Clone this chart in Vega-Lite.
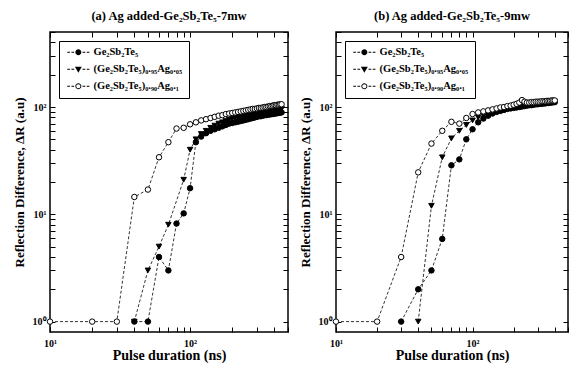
{
  "$schema": "https://vega.github.io/schema/vega-lite/v6.json",
  "background": "white",
  "padding": {"left": 12, "top": 8, "right": 0, "bottom": 0},
  "spacing": 8,
  "config": {
    "font": "Liberation Serif",
    "view": {"stroke": "black", "strokeWidth": 1.5},
    "title": {"font": "Liberation Serif", "fontSize": 12.5, "fontWeight": "bold", "offset": 5, "anchor": "middle", "color": "black"},
    "axis": {"grid": false, "domain": false, "tickColor": "black", "tickWidth": 1, "labelColor": "black", "titleColor": "black", "labelFont": "Liberation Serif", "titleFont": "Liberation Serif", "labelFontWeight": "bold", "titleFontWeight": "bold", "labelFontSize": 10, "labelFlush": false, "labelOverlap": false, "labelBound": false},
    "legend": {"labelFont": "Liberation Serif", "labelFontSize": 10.5, "labelFontWeight": "bold", "labelColor": "black"}
  },
  "datasets": {
    "a": [
      {"duration": 40, "dR": 1, "alloy": "(Ge₂Sb₂Te₅)₀.₉₅Ag₀.₀₅"},
      {"duration": 50, "dR": 3.0, "alloy": "(Ge₂Sb₂Te₅)₀.₉₅Ag₀.₀₅"},
      {"duration": 60, "dR": 5.0, "alloy": "(Ge₂Sb₂Te₅)₀.₉₅Ag₀.₀₅"},
      {"duration": 70, "dR": 8.0, "alloy": "(Ge₂Sb₂Te₅)₀.₉₅Ag₀.₀₅"},
      {"duration": 90, "dR": 21, "alloy": "(Ge₂Sb₂Te₅)₀.₉₅Ag₀.₀₅"},
      {"duration": 100, "dR": 40, "alloy": "(Ge₂Sb₂Te₅)₀.₉₅Ag₀.₀₅"},
      {"duration": 110, "dR": 50, "alloy": "(Ge₂Sb₂Te₅)₀.₉₅Ag₀.₀₅"},
      {"duration": 120, "dR": 56, "alloy": "(Ge₂Sb₂Te₅)₀.₉₅Ag₀.₀₅"},
      {"duration": 130, "dR": 60, "alloy": "(Ge₂Sb₂Te₅)₀.₉₅Ag₀.₀₅"},
      {"duration": 140, "dR": 64, "alloy": "(Ge₂Sb₂Te₅)₀.₉₅Ag₀.₀₅"},
      {"duration": 150, "dR": 67, "alloy": "(Ge₂Sb₂Te₅)₀.₉₅Ag₀.₀₅"},
      {"duration": 160, "dR": 70, "alloy": "(Ge₂Sb₂Te₅)₀.₉₅Ag₀.₀₅"},
      {"duration": 170, "dR": 72, "alloy": "(Ge₂Sb₂Te₅)₀.₉₅Ag₀.₀₅"},
      {"duration": 180, "dR": 74, "alloy": "(Ge₂Sb₂Te₅)₀.₉₅Ag₀.₀₅"},
      {"duration": 190, "dR": 76, "alloy": "(Ge₂Sb₂Te₅)₀.₉₅Ag₀.₀₅"},
      {"duration": 200, "dR": 78, "alloy": "(Ge₂Sb₂Te₅)₀.₉₅Ag₀.₀₅"},
      {"duration": 210, "dR": 79, "alloy": "(Ge₂Sb₂Te₅)₀.₉₅Ag₀.₀₅"},
      {"duration": 220, "dR": 80, "alloy": "(Ge₂Sb₂Te₅)₀.₉₅Ag₀.₀₅"},
      {"duration": 230, "dR": 81, "alloy": "(Ge₂Sb₂Te₅)₀.₉₅Ag₀.₀₅"},
      {"duration": 240, "dR": 82, "alloy": "(Ge₂Sb₂Te₅)₀.₉₅Ag₀.₀₅"},
      {"duration": 250, "dR": 83, "alloy": "(Ge₂Sb₂Te₅)₀.₉₅Ag₀.₀₅"},
      {"duration": 260, "dR": 84, "alloy": "(Ge₂Sb₂Te₅)₀.₉₅Ag₀.₀₅"},
      {"duration": 270, "dR": 85, "alloy": "(Ge₂Sb₂Te₅)₀.₉₅Ag₀.₀₅"},
      {"duration": 280, "dR": 86, "alloy": "(Ge₂Sb₂Te₅)₀.₉₅Ag₀.₀₅"},
      {"duration": 290, "dR": 87, "alloy": "(Ge₂Sb₂Te₅)₀.₉₅Ag₀.₀₅"},
      {"duration": 300, "dR": 88, "alloy": "(Ge₂Sb₂Te₅)₀.₉₅Ag₀.₀₅"},
      {"duration": 310, "dR": 88, "alloy": "(Ge₂Sb₂Te₅)₀.₉₅Ag₀.₀₅"},
      {"duration": 320, "dR": 89, "alloy": "(Ge₂Sb₂Te₅)₀.₉₅Ag₀.₀₅"},
      {"duration": 330, "dR": 90, "alloy": "(Ge₂Sb₂Te₅)₀.₉₅Ag₀.₀₅"},
      {"duration": 340, "dR": 90, "alloy": "(Ge₂Sb₂Te₅)₀.₉₅Ag₀.₀₅"},
      {"duration": 350, "dR": 91, "alloy": "(Ge₂Sb₂Te₅)₀.₉₅Ag₀.₀₅"},
      {"duration": 360, "dR": 92, "alloy": "(Ge₂Sb₂Te₅)₀.₉₅Ag₀.₀₅"},
      {"duration": 370, "dR": 92, "alloy": "(Ge₂Sb₂Te₅)₀.₉₅Ag₀.₀₅"},
      {"duration": 380, "dR": 93, "alloy": "(Ge₂Sb₂Te₅)₀.₉₅Ag₀.₀₅"},
      {"duration": 390, "dR": 93, "alloy": "(Ge₂Sb₂Te₅)₀.₉₅Ag₀.₀₅"},
      {"duration": 400, "dR": 94, "alloy": "(Ge₂Sb₂Te₅)₀.₉₅Ag₀.₀₅"},
      {"duration": 410, "dR": 94, "alloy": "(Ge₂Sb₂Te₅)₀.₉₅Ag₀.₀₅"},
      {"duration": 420, "dR": 95, "alloy": "(Ge₂Sb₂Te₅)₀.₉₅Ag₀.₀₅"},
      {"duration": 430, "dR": 95, "alloy": "(Ge₂Sb₂Te₅)₀.₉₅Ag₀.₀₅"},
      {"duration": 440, "dR": 96, "alloy": "(Ge₂Sb₂Te₅)₀.₉₅Ag₀.₀₅"},
      {"duration": 450, "dR": 96, "alloy": "(Ge₂Sb₂Te₅)₀.₉₅Ag₀.₀₅"},
      {"duration": 40, "dR": 1, "alloy": "Ge₂Sb₂Te₅"},
      {"duration": 50, "dR": 1, "alloy": "Ge₂Sb₂Te₅"},
      {"duration": 60, "dR": 4.0, "alloy": "Ge₂Sb₂Te₅"},
      {"duration": 70, "dR": 3.0, "alloy": "Ge₂Sb₂Te₅"},
      {"duration": 80, "dR": 8.2, "alloy": "Ge₂Sb₂Te₅"},
      {"duration": 90, "dR": 10.2, "alloy": "Ge₂Sb₂Te₅"},
      {"duration": 100, "dR": 17.5, "alloy": "Ge₂Sb₂Te₅"},
      {"duration": 110, "dR": 47, "alloy": "Ge₂Sb₂Te₅"},
      {"duration": 120, "dR": 53, "alloy": "Ge₂Sb₂Te₅"},
      {"duration": 130, "dR": 57, "alloy": "Ge₂Sb₂Te₅"},
      {"duration": 140, "dR": 60, "alloy": "Ge₂Sb₂Te₅"},
      {"duration": 150, "dR": 62, "alloy": "Ge₂Sb₂Te₅"},
      {"duration": 160, "dR": 64, "alloy": "Ge₂Sb₂Te₅"},
      {"duration": 170, "dR": 66, "alloy": "Ge₂Sb₂Te₅"},
      {"duration": 180, "dR": 68, "alloy": "Ge₂Sb₂Te₅"},
      {"duration": 190, "dR": 70, "alloy": "Ge₂Sb₂Te₅"},
      {"duration": 200, "dR": 71, "alloy": "Ge₂Sb₂Te₅"},
      {"duration": 210, "dR": 72, "alloy": "Ge₂Sb₂Te₅"},
      {"duration": 220, "dR": 73, "alloy": "Ge₂Sb₂Te₅"},
      {"duration": 230, "dR": 74, "alloy": "Ge₂Sb₂Te₅"},
      {"duration": 240, "dR": 75, "alloy": "Ge₂Sb₂Te₅"},
      {"duration": 250, "dR": 76, "alloy": "Ge₂Sb₂Te₅"},
      {"duration": 260, "dR": 77, "alloy": "Ge₂Sb₂Te₅"},
      {"duration": 270, "dR": 78, "alloy": "Ge₂Sb₂Te₅"},
      {"duration": 280, "dR": 79, "alloy": "Ge₂Sb₂Te₅"},
      {"duration": 290, "dR": 80, "alloy": "Ge₂Sb₂Te₅"},
      {"duration": 300, "dR": 81, "alloy": "Ge₂Sb₂Te₅"},
      {"duration": 310, "dR": 82, "alloy": "Ge₂Sb₂Te₅"},
      {"duration": 320, "dR": 82, "alloy": "Ge₂Sb₂Te₅"},
      {"duration": 330, "dR": 83, "alloy": "Ge₂Sb₂Te₅"},
      {"duration": 340, "dR": 84, "alloy": "Ge₂Sb₂Te₅"},
      {"duration": 350, "dR": 84, "alloy": "Ge₂Sb₂Te₅"},
      {"duration": 360, "dR": 85, "alloy": "Ge₂Sb₂Te₅"},
      {"duration": 370, "dR": 85, "alloy": "Ge₂Sb₂Te₅"},
      {"duration": 380, "dR": 86, "alloy": "Ge₂Sb₂Te₅"},
      {"duration": 390, "dR": 86, "alloy": "Ge₂Sb₂Te₅"},
      {"duration": 400, "dR": 87, "alloy": "Ge₂Sb₂Te₅"},
      {"duration": 410, "dR": 87, "alloy": "Ge₂Sb₂Te₅"},
      {"duration": 420, "dR": 88, "alloy": "Ge₂Sb₂Te₅"},
      {"duration": 430, "dR": 88, "alloy": "Ge₂Sb₂Te₅"},
      {"duration": 440, "dR": 89, "alloy": "Ge₂Sb₂Te₅"},
      {"duration": 450, "dR": 89, "alloy": "Ge₂Sb₂Te₅"},
      {"duration": 10, "dR": 1, "alloy": "(Ge₂Sb₂Te₅)₀.₉₀Ag₀.₁"},
      {"duration": 20, "dR": 1, "alloy": "(Ge₂Sb₂Te₅)₀.₉₀Ag₀.₁"},
      {"duration": 30, "dR": 1, "alloy": "(Ge₂Sb₂Te₅)₀.₉₀Ag₀.₁"},
      {"duration": 40, "dR": 14.5, "alloy": "(Ge₂Sb₂Te₅)₀.₉₀Ag₀.₁"},
      {"duration": 50, "dR": 17, "alloy": "(Ge₂Sb₂Te₅)₀.₉₀Ag₀.₁"},
      {"duration": 60, "dR": 34, "alloy": "(Ge₂Sb₂Te₅)₀.₉₀Ag₀.₁"},
      {"duration": 70, "dR": 47, "alloy": "(Ge₂Sb₂Te₅)₀.₉₀Ag₀.₁"},
      {"duration": 80, "dR": 63, "alloy": "(Ge₂Sb₂Te₅)₀.₉₀Ag₀.₁"},
      {"duration": 90, "dR": 64, "alloy": "(Ge₂Sb₂Te₅)₀.₉₀Ag₀.₁"},
      {"duration": 100, "dR": 69, "alloy": "(Ge₂Sb₂Te₅)₀.₉₀Ag₀.₁"},
      {"duration": 110, "dR": 72, "alloy": "(Ge₂Sb₂Te₅)₀.₉₀Ag₀.₁"},
      {"duration": 120, "dR": 75, "alloy": "(Ge₂Sb₂Te₅)₀.₉₀Ag₀.₁"},
      {"duration": 130, "dR": 77, "alloy": "(Ge₂Sb₂Te₅)₀.₉₀Ag₀.₁"},
      {"duration": 140, "dR": 79, "alloy": "(Ge₂Sb₂Te₅)₀.₉₀Ag₀.₁"},
      {"duration": 150, "dR": 81, "alloy": "(Ge₂Sb₂Te₅)₀.₉₀Ag₀.₁"},
      {"duration": 160, "dR": 83, "alloy": "(Ge₂Sb₂Te₅)₀.₉₀Ag₀.₁"},
      {"duration": 170, "dR": 84, "alloy": "(Ge₂Sb₂Te₅)₀.₉₀Ag₀.₁"},
      {"duration": 180, "dR": 86, "alloy": "(Ge₂Sb₂Te₅)₀.₉₀Ag₀.₁"},
      {"duration": 190, "dR": 87, "alloy": "(Ge₂Sb₂Te₅)₀.₉₀Ag₀.₁"},
      {"duration": 200, "dR": 88, "alloy": "(Ge₂Sb₂Te₅)₀.₉₀Ag₀.₁"},
      {"duration": 210, "dR": 89, "alloy": "(Ge₂Sb₂Te₅)₀.₉₀Ag₀.₁"},
      {"duration": 220, "dR": 90, "alloy": "(Ge₂Sb₂Te₅)₀.₉₀Ag₀.₁"},
      {"duration": 230, "dR": 91, "alloy": "(Ge₂Sb₂Te₅)₀.₉₀Ag₀.₁"},
      {"duration": 240, "dR": 92, "alloy": "(Ge₂Sb₂Te₅)₀.₉₀Ag₀.₁"},
      {"duration": 250, "dR": 93, "alloy": "(Ge₂Sb₂Te₅)₀.₉₀Ag₀.₁"},
      {"duration": 260, "dR": 94, "alloy": "(Ge₂Sb₂Te₅)₀.₉₀Ag₀.₁"},
      {"duration": 270, "dR": 95, "alloy": "(Ge₂Sb₂Te₅)₀.₉₀Ag₀.₁"},
      {"duration": 280, "dR": 96, "alloy": "(Ge₂Sb₂Te₅)₀.₉₀Ag₀.₁"},
      {"duration": 290, "dR": 96, "alloy": "(Ge₂Sb₂Te₅)₀.₉₀Ag₀.₁"},
      {"duration": 300, "dR": 97, "alloy": "(Ge₂Sb₂Te₅)₀.₉₀Ag₀.₁"},
      {"duration": 310, "dR": 98, "alloy": "(Ge₂Sb₂Te₅)₀.₉₀Ag₀.₁"},
      {"duration": 320, "dR": 98, "alloy": "(Ge₂Sb₂Te₅)₀.₉₀Ag₀.₁"},
      {"duration": 330, "dR": 99, "alloy": "(Ge₂Sb₂Te₅)₀.₉₀Ag₀.₁"},
      {"duration": 340, "dR": 100, "alloy": "(Ge₂Sb₂Te₅)₀.₉₀Ag₀.₁"},
      {"duration": 350, "dR": 100, "alloy": "(Ge₂Sb₂Te₅)₀.₉₀Ag₀.₁"},
      {"duration": 360, "dR": 101, "alloy": "(Ge₂Sb₂Te₅)₀.₉₀Ag₀.₁"},
      {"duration": 370, "dR": 102, "alloy": "(Ge₂Sb₂Te₅)₀.₉₀Ag₀.₁"},
      {"duration": 380, "dR": 102, "alloy": "(Ge₂Sb₂Te₅)₀.₉₀Ag₀.₁"},
      {"duration": 390, "dR": 103, "alloy": "(Ge₂Sb₂Te₅)₀.₉₀Ag₀.₁"},
      {"duration": 400, "dR": 104, "alloy": "(Ge₂Sb₂Te₅)₀.₉₀Ag₀.₁"},
      {"duration": 410, "dR": 104, "alloy": "(Ge₂Sb₂Te₅)₀.₉₀Ag₀.₁"},
      {"duration": 420, "dR": 105, "alloy": "(Ge₂Sb₂Te₅)₀.₉₀Ag₀.₁"},
      {"duration": 430, "dR": 105, "alloy": "(Ge₂Sb₂Te₅)₀.₉₀Ag₀.₁"},
      {"duration": 440, "dR": 106, "alloy": "(Ge₂Sb₂Te₅)₀.₉₀Ag₀.₁"},
      {"duration": 450, "dR": 106, "alloy": "(Ge₂Sb₂Te₅)₀.₉₀Ag₀.₁"}
    ],
    "b": [
      {"duration": 40, "dR": 1, "alloy": "(Ge₂Sb₂Te₅)₀.₉₅Ag₀.₀₅"},
      {"duration": 50, "dR": 12, "alloy": "(Ge₂Sb₂Te₅)₀.₉₅Ag₀.₀₅"},
      {"duration": 60, "dR": 34, "alloy": "(Ge₂Sb₂Te₅)₀.₉₅Ag₀.₀₅"},
      {"duration": 70, "dR": 51, "alloy": "(Ge₂Sb₂Te₅)₀.₉₅Ag₀.₀₅"},
      {"duration": 80, "dR": 60, "alloy": "(Ge₂Sb₂Te₅)₀.₉₅Ag₀.₀₅"},
      {"duration": 90, "dR": 68, "alloy": "(Ge₂Sb₂Te₅)₀.₉₅Ag₀.₀₅"},
      {"duration": 100, "dR": 75, "alloy": "(Ge₂Sb₂Te₅)₀.₉₅Ag₀.₀₅"},
      {"duration": 110, "dR": 80, "alloy": "(Ge₂Sb₂Te₅)₀.₉₅Ag₀.₀₅"},
      {"duration": 120, "dR": 84, "alloy": "(Ge₂Sb₂Te₅)₀.₉₅Ag₀.₀₅"},
      {"duration": 130, "dR": 88, "alloy": "(Ge₂Sb₂Te₅)₀.₉₅Ag₀.₀₅"},
      {"duration": 140, "dR": 91, "alloy": "(Ge₂Sb₂Te₅)₀.₉₅Ag₀.₀₅"},
      {"duration": 150, "dR": 93, "alloy": "(Ge₂Sb₂Te₅)₀.₉₅Ag₀.₀₅"},
      {"duration": 160, "dR": 95, "alloy": "(Ge₂Sb₂Te₅)₀.₉₅Ag₀.₀₅"},
      {"duration": 170, "dR": 97, "alloy": "(Ge₂Sb₂Te₅)₀.₉₅Ag₀.₀₅"},
      {"duration": 180, "dR": 98, "alloy": "(Ge₂Sb₂Te₅)₀.₉₅Ag₀.₀₅"},
      {"duration": 190, "dR": 100, "alloy": "(Ge₂Sb₂Te₅)₀.₉₅Ag₀.₀₅"},
      {"duration": 200, "dR": 101, "alloy": "(Ge₂Sb₂Te₅)₀.₉₅Ag₀.₀₅"},
      {"duration": 210, "dR": 102, "alloy": "(Ge₂Sb₂Te₅)₀.₉₅Ag₀.₀₅"},
      {"duration": 220, "dR": 103, "alloy": "(Ge₂Sb₂Te₅)₀.₉₅Ag₀.₀₅"},
      {"duration": 230, "dR": 104, "alloy": "(Ge₂Sb₂Te₅)₀.₉₅Ag₀.₀₅"},
      {"duration": 240, "dR": 104, "alloy": "(Ge₂Sb₂Te₅)₀.₉₅Ag₀.₀₅"},
      {"duration": 250, "dR": 105, "alloy": "(Ge₂Sb₂Te₅)₀.₉₅Ag₀.₀₅"},
      {"duration": 260, "dR": 106, "alloy": "(Ge₂Sb₂Te₅)₀.₉₅Ag₀.₀₅"},
      {"duration": 270, "dR": 106, "alloy": "(Ge₂Sb₂Te₅)₀.₉₅Ag₀.₀₅"},
      {"duration": 280, "dR": 107, "alloy": "(Ge₂Sb₂Te₅)₀.₉₅Ag₀.₀₅"},
      {"duration": 290, "dR": 107, "alloy": "(Ge₂Sb₂Te₅)₀.₉₅Ag₀.₀₅"},
      {"duration": 300, "dR": 108, "alloy": "(Ge₂Sb₂Te₅)₀.₉₅Ag₀.₀₅"},
      {"duration": 310, "dR": 108, "alloy": "(Ge₂Sb₂Te₅)₀.₉₅Ag₀.₀₅"},
      {"duration": 320, "dR": 109, "alloy": "(Ge₂Sb₂Te₅)₀.₉₅Ag₀.₀₅"},
      {"duration": 330, "dR": 109, "alloy": "(Ge₂Sb₂Te₅)₀.₉₅Ag₀.₀₅"},
      {"duration": 340, "dR": 110, "alloy": "(Ge₂Sb₂Te₅)₀.₉₅Ag₀.₀₅"},
      {"duration": 350, "dR": 110, "alloy": "(Ge₂Sb₂Te₅)₀.₉₅Ag₀.₀₅"},
      {"duration": 360, "dR": 110, "alloy": "(Ge₂Sb₂Te₅)₀.₉₅Ag₀.₀₅"},
      {"duration": 370, "dR": 111, "alloy": "(Ge₂Sb₂Te₅)₀.₉₅Ag₀.₀₅"},
      {"duration": 380, "dR": 111, "alloy": "(Ge₂Sb₂Te₅)₀.₉₅Ag₀.₀₅"},
      {"duration": 390, "dR": 112, "alloy": "(Ge₂Sb₂Te₅)₀.₉₅Ag₀.₀₅"},
      {"duration": 400, "dR": 112, "alloy": "(Ge₂Sb₂Te₅)₀.₉₅Ag₀.₀₅"},
      {"duration": 30, "dR": 1, "alloy": "Ge₂Sb₂Te₅"},
      {"duration": 40, "dR": 2.0, "alloy": "Ge₂Sb₂Te₅"},
      {"duration": 50, "dR": 3.0, "alloy": "Ge₂Sb₂Te₅"},
      {"duration": 60, "dR": 5.9, "alloy": "Ge₂Sb₂Te₅"},
      {"duration": 70, "dR": 28.6, "alloy": "Ge₂Sb₂Te₅"},
      {"duration": 80, "dR": 32.5, "alloy": "Ge₂Sb₂Te₅"},
      {"duration": 90, "dR": 50, "alloy": "Ge₂Sb₂Te₅"},
      {"duration": 100, "dR": 62, "alloy": "Ge₂Sb₂Te₅"},
      {"duration": 110, "dR": 72, "alloy": "Ge₂Sb₂Te₅"},
      {"duration": 120, "dR": 78, "alloy": "Ge₂Sb₂Te₅"},
      {"duration": 130, "dR": 83, "alloy": "Ge₂Sb₂Te₅"},
      {"duration": 140, "dR": 87, "alloy": "Ge₂Sb₂Te₅"},
      {"duration": 150, "dR": 90, "alloy": "Ge₂Sb₂Te₅"},
      {"duration": 160, "dR": 92, "alloy": "Ge₂Sb₂Te₅"},
      {"duration": 170, "dR": 94, "alloy": "Ge₂Sb₂Te₅"},
      {"duration": 180, "dR": 96, "alloy": "Ge₂Sb₂Te₅"},
      {"duration": 190, "dR": 97, "alloy": "Ge₂Sb₂Te₅"},
      {"duration": 200, "dR": 98, "alloy": "Ge₂Sb₂Te₅"},
      {"duration": 210, "dR": 99, "alloy": "Ge₂Sb₂Te₅"},
      {"duration": 220, "dR": 100, "alloy": "Ge₂Sb₂Te₅"},
      {"duration": 230, "dR": 101, "alloy": "Ge₂Sb₂Te₅"},
      {"duration": 240, "dR": 102, "alloy": "Ge₂Sb₂Te₅"},
      {"duration": 250, "dR": 103, "alloy": "Ge₂Sb₂Te₅"},
      {"duration": 260, "dR": 104, "alloy": "Ge₂Sb₂Te₅"},
      {"duration": 270, "dR": 104, "alloy": "Ge₂Sb₂Te₅"},
      {"duration": 280, "dR": 105, "alloy": "Ge₂Sb₂Te₅"},
      {"duration": 290, "dR": 106, "alloy": "Ge₂Sb₂Te₅"},
      {"duration": 300, "dR": 106, "alloy": "Ge₂Sb₂Te₅"},
      {"duration": 310, "dR": 107, "alloy": "Ge₂Sb₂Te₅"},
      {"duration": 320, "dR": 107, "alloy": "Ge₂Sb₂Te₅"},
      {"duration": 330, "dR": 108, "alloy": "Ge₂Sb₂Te₅"},
      {"duration": 340, "dR": 108, "alloy": "Ge₂Sb₂Te₅"},
      {"duration": 350, "dR": 109, "alloy": "Ge₂Sb₂Te₅"},
      {"duration": 360, "dR": 109, "alloy": "Ge₂Sb₂Te₅"},
      {"duration": 370, "dR": 110, "alloy": "Ge₂Sb₂Te₅"},
      {"duration": 380, "dR": 110, "alloy": "Ge₂Sb₂Te₅"},
      {"duration": 390, "dR": 111, "alloy": "Ge₂Sb₂Te₅"},
      {"duration": 400, "dR": 111, "alloy": "Ge₂Sb₂Te₅"},
      {"duration": 10, "dR": 1, "alloy": "(Ge₂Sb₂Te₅)₀.₉₀Ag₀.₁"},
      {"duration": 20, "dR": 1, "alloy": "(Ge₂Sb₂Te₅)₀.₉₀Ag₀.₁"},
      {"duration": 30, "dR": 4.0, "alloy": "(Ge₂Sb₂Te₅)₀.₉₀Ag₀.₁"},
      {"duration": 40, "dR": 24.6, "alloy": "(Ge₂Sb₂Te₅)₀.₉₀Ag₀.₁"},
      {"duration": 50, "dR": 45.6, "alloy": "(Ge₂Sb₂Te₅)₀.₉₀Ag₀.₁"},
      {"duration": 60, "dR": 60, "alloy": "(Ge₂Sb₂Te₅)₀.₉₀Ag₀.₁"},
      {"duration": 70, "dR": 72.8, "alloy": "(Ge₂Sb₂Te₅)₀.₉₀Ag₀.₁"},
      {"duration": 80, "dR": 70, "alloy": "(Ge₂Sb₂Te₅)₀.₉₀Ag₀.₁"},
      {"duration": 90, "dR": 79, "alloy": "(Ge₂Sb₂Te₅)₀.₉₀Ag₀.₁"},
      {"duration": 100, "dR": 86, "alloy": "(Ge₂Sb₂Te₅)₀.₉₀Ag₀.₁"},
      {"duration": 110, "dR": 89, "alloy": "(Ge₂Sb₂Te₅)₀.₉₀Ag₀.₁"},
      {"duration": 120, "dR": 91, "alloy": "(Ge₂Sb₂Te₅)₀.₉₀Ag₀.₁"},
      {"duration": 130, "dR": 93, "alloy": "(Ge₂Sb₂Te₅)₀.₉₀Ag₀.₁"},
      {"duration": 140, "dR": 95, "alloy": "(Ge₂Sb₂Te₅)₀.₉₀Ag₀.₁"},
      {"duration": 150, "dR": 97, "alloy": "(Ge₂Sb₂Te₅)₀.₉₀Ag₀.₁"},
      {"duration": 160, "dR": 99, "alloy": "(Ge₂Sb₂Te₅)₀.₉₀Ag₀.₁"},
      {"duration": 170, "dR": 100, "alloy": "(Ge₂Sb₂Te₅)₀.₉₀Ag₀.₁"},
      {"duration": 180, "dR": 102, "alloy": "(Ge₂Sb₂Te₅)₀.₉₀Ag₀.₁"},
      {"duration": 190, "dR": 103, "alloy": "(Ge₂Sb₂Te₅)₀.₉₀Ag₀.₁"},
      {"duration": 200, "dR": 105, "alloy": "(Ge₂Sb₂Te₅)₀.₉₀Ag₀.₁"},
      {"duration": 210, "dR": 107, "alloy": "(Ge₂Sb₂Te₅)₀.₉₀Ag₀.₁"},
      {"duration": 220, "dR": 110, "alloy": "(Ge₂Sb₂Te₅)₀.₉₀Ag₀.₁"},
      {"duration": 230, "dR": 116, "alloy": "(Ge₂Sb₂Te₅)₀.₉₀Ag₀.₁"},
      {"duration": 240, "dR": 112, "alloy": "(Ge₂Sb₂Te₅)₀.₉₀Ag₀.₁"},
      {"duration": 250, "dR": 110, "alloy": "(Ge₂Sb₂Te₅)₀.₉₀Ag₀.₁"},
      {"duration": 260, "dR": 110, "alloy": "(Ge₂Sb₂Te₅)₀.₉₀Ag₀.₁"},
      {"duration": 270, "dR": 111, "alloy": "(Ge₂Sb₂Te₅)₀.₉₀Ag₀.₁"},
      {"duration": 280, "dR": 111, "alloy": "(Ge₂Sb₂Te₅)₀.₉₀Ag₀.₁"},
      {"duration": 290, "dR": 112, "alloy": "(Ge₂Sb₂Te₅)₀.₉₀Ag₀.₁"},
      {"duration": 300, "dR": 112, "alloy": "(Ge₂Sb₂Te₅)₀.₉₀Ag₀.₁"},
      {"duration": 310, "dR": 112, "alloy": "(Ge₂Sb₂Te₅)₀.₉₀Ag₀.₁"},
      {"duration": 320, "dR": 113, "alloy": "(Ge₂Sb₂Te₅)₀.₉₀Ag₀.₁"},
      {"duration": 330, "dR": 113, "alloy": "(Ge₂Sb₂Te₅)₀.₉₀Ag₀.₁"},
      {"duration": 340, "dR": 113, "alloy": "(Ge₂Sb₂Te₅)₀.₉₀Ag₀.₁"},
      {"duration": 350, "dR": 114, "alloy": "(Ge₂Sb₂Te₅)₀.₉₀Ag₀.₁"},
      {"duration": 360, "dR": 114, "alloy": "(Ge₂Sb₂Te₅)₀.₉₀Ag₀.₁"},
      {"duration": 370, "dR": 114, "alloy": "(Ge₂Sb₂Te₅)₀.₉₀Ag₀.₁"},
      {"duration": 380, "dR": 115, "alloy": "(Ge₂Sb₂Te₅)₀.₉₀Ag₀.₁"},
      {"duration": 390, "dR": 115, "alloy": "(Ge₂Sb₂Te₅)₀.₉₀Ag₀.₁"},
      {"duration": 400, "dR": 115, "alloy": "(Ge₂Sb₂Te₅)₀.₉₀Ag₀.₁"}
    ]
  },
  "hconcat": [
    {
      "width": 238,
      "height": 300,
      "title": "(a) Ag added-Ge₂Sb₂Te₅-7mw",
      "data": {"name": "a"},
      "layer": [
        {
          "mark": {"type": "line", "strokeDash": [3, 2], "strokeWidth": 0.8, "color": "black"},
          "encoding": {
            "x": {"field": "duration", "type": "quantitative", "scale": {"type": "log", "domain": [10, 500], "nice": false},
              "axis": {"orient": "bottom", "title": "Pulse duration (ns)", "titleFontSize": 14, "titlePadding": 0, "values": [10, 20, 30, 40, 50, 60, 70, 80, 90, 100, 200, 300, 400, 500], "labelExpr": "datum.value == 10 ? '10¹' : datum.value == 100 ? '10²' : ''", "tickSize": -5, "labelPadding": 11}},
            "y": {"field": "dR", "type": "quantitative", "scale": {"type": "log", "domain": [0.8, 500], "nice": false},
              "axis": {"orient": "left", "title": "Reflection Difference, ΔR  (a.u)", "titleFontSize": 13, "titlePadding": 6, "values": [1, 2, 3, 4, 5, 6, 7, 8, 9, 10, 20, 30, 40, 50, 60, 70, 80, 90, 100, 200, 300, 400, 500], "labelExpr": "datum.value == 1 ? '10⁰' : datum.value == 10 ? '10¹' : datum.value == 100 ? '10²' : ''", "tickSize": -5, "labelPadding": 9}},
            "detail": {"field": "alloy"}
          }
        },
        {
          "mark": {"type": "point", "filled": true, "size": 30, "stroke": "black", "strokeWidth": 1, "opacity": 1},
          "encoding": {
            "x": {"field": "duration", "type": "quantitative", "scale": {"type": "log", "domain": [10, 500], "nice": false},
              "axis": {"orient": "top", "title": null, "labels": false, "values": [10, 20, 30, 40, 50, 60, 70, 80, 90, 100, 200, 300, 400, 500], "tickSize": -5}},
            "y": {"field": "dR", "type": "quantitative", "scale": {"type": "log", "domain": [0.8, 500], "nice": false},
              "axis": {"orient": "right", "title": null, "labels": false, "values": [1, 2, 3, 4, 5, 6, 7, 8, 9, 10, 20, 30, 40, 50, 60, 70, 80, 90, 100, 200, 300, 400, 500], "tickSize": -5}},
            "shape": {"field": "alloy", "scale": {"domain": ["Ge₂Sb₂Te₅", "(Ge₂Sb₂Te₅)₀.₉₅Ag₀.₀₅", "(Ge₂Sb₂Te₅)₀.₉₀Ag₀.₁"], "range": ["circle", "triangle-down", "circle"]}, "legend": null},
            "fill": {"field": "alloy", "scale": {"domain": ["Ge₂Sb₂Te₅", "(Ge₂Sb₂Te₅)₀.₉₅Ag₀.₀₅", "(Ge₂Sb₂Te₅)₀.₉₀Ag₀.₁"], "range": ["black", "black", "white"]}, "legend": null}
          }
        },
        {
          "transform": [{"filter": "false"}],
          "mark": {"type": "point", "filled": true, "color": "black", "opacity": 1},
          "encoding": {
            "x": {"field": "duration", "type": "quantitative", "axis": null},
            "y": {"field": "dR", "type": "quantitative", "axis": null},
            "shape": {"field": "alloy", "scale": {"domain": ["Ge₂Sb₂Te₅", "(Ge₂Sb₂Te₅)₀.₉₅Ag₀.₀₅", "(Ge₂Sb₂Te₅)₀.₉₀Ag₀.₁"], "range": [
              "M-1,-0.17H-0.1V0.17H-1Z M0.4,-0.17H1.3V0.17H0.4Z M4.1,-0.17H5V0.17H4.1Z M5.5,-0.17H6.4V0.17H5.5Z M3.7,0A1,1 0 1,1 1.7,0A1,1 0 1,1 3.7,0Z",
              "M-1,-0.17H-0.1V0.17H-1Z M0.4,-0.17H1.3V0.17H0.4Z M4.1,-0.17H5V0.17H4.1Z M5.5,-0.17H6.4V0.17H5.5Z M1.55,-0.8L3.85,-0.8L2.7,1.2Z",
              "M-1,-0.17H-0.1V0.17H-1Z M0.4,-0.17H1.3V0.17H0.4Z M4.1,-0.17H5V0.17H4.1Z M5.5,-0.17H6.4V0.17H5.5Z M3.7,0A1,1 0 1,1 1.7,0A1,1 0 1,1 3.7,0Z M3.4,0A0.7,0.7 0 1,0 2,0A0.7,0.7 0 1,0 3.4,0Z"
            ]}, "legend": {"title": null, "orient": "top-left", "offset": 9, "strokeColor": "black", "fillColor": "white", "padding": 6, "rowPadding": 6, "symbolSize": 36, "symbolStrokeWidth": 0, "symbolOpacity": 1, "labelOffset": 18}}
          }
        }
      ],
      "resolve": {"axis": {"x": "independent", "y": "independent"}, "scale": {"shape": "independent", "fill": "independent"}}
    },
    {
      "width": 232,
      "height": 300,
      "title": "(b) Ag added-Ge₂Sb₂Te₅-9mw",
      "data": {"name": "b"},
      "layer": [
        {
          "mark": {"type": "line", "strokeDash": [3, 2], "strokeWidth": 0.8, "color": "black"},
          "encoding": {
            "x": {"field": "duration", "type": "quantitative", "scale": {"type": "log", "domain": [10, 500], "nice": false},
              "axis": {"orient": "bottom", "title": "Pulse duration (ns)", "titleFontSize": 14, "titlePadding": 0, "values": [10, 20, 30, 40, 50, 60, 70, 80, 90, 100, 200, 300, 400, 500], "labelExpr": "datum.value == 10 ? '10¹' : datum.value == 100 ? '10²' : ''", "tickSize": -5, "labelPadding": 11}},
            "y": {"field": "dR", "type": "quantitative", "scale": {"type": "log", "domain": [0.8, 500], "nice": false},
              "axis": {"orient": "left", "title": "Reflection Difference, ΔR  (a.u)", "titleFontSize": 13, "titlePadding": 6, "values": [1, 2, 3, 4, 5, 6, 7, 8, 9, 10, 20, 30, 40, 50, 60, 70, 80, 90, 100, 200, 300, 400, 500], "labelExpr": "datum.value == 1 ? '10⁰' : datum.value == 10 ? '10¹' : datum.value == 100 ? '10²' : ''", "tickSize": -5, "labelPadding": 9}},
            "detail": {"field": "alloy"}
          }
        },
        {
          "mark": {"type": "point", "filled": true, "size": 30, "stroke": "black", "strokeWidth": 1, "opacity": 1},
          "encoding": {
            "x": {"field": "duration", "type": "quantitative", "scale": {"type": "log", "domain": [10, 500], "nice": false},
              "axis": {"orient": "top", "title": null, "labels": false, "values": [10, 20, 30, 40, 50, 60, 70, 80, 90, 100, 200, 300, 400, 500], "tickSize": -5}},
            "y": {"field": "dR", "type": "quantitative", "scale": {"type": "log", "domain": [0.8, 500], "nice": false},
              "axis": {"orient": "right", "title": null, "labels": false, "values": [1, 2, 3, 4, 5, 6, 7, 8, 9, 10, 20, 30, 40, 50, 60, 70, 80, 90, 100, 200, 300, 400, 500], "tickSize": -5}},
            "shape": {"field": "alloy", "scale": {"domain": ["Ge₂Sb₂Te₅", "(Ge₂Sb₂Te₅)₀.₉₅Ag₀.₀₅", "(Ge₂Sb₂Te₅)₀.₉₀Ag₀.₁"], "range": ["circle", "triangle-down", "circle"]}, "legend": null},
            "fill": {"field": "alloy", "scale": {"domain": ["Ge₂Sb₂Te₅", "(Ge₂Sb₂Te₅)₀.₉₅Ag₀.₀₅", "(Ge₂Sb₂Te₅)₀.₉₀Ag₀.₁"], "range": ["black", "black", "white"]}, "legend": null}
          }
        },
        {
          "transform": [{"filter": "false"}],
          "mark": {"type": "point", "filled": true, "color": "black", "opacity": 1},
          "encoding": {
            "x": {"field": "duration", "type": "quantitative", "axis": null},
            "y": {"field": "dR", "type": "quantitative", "axis": null},
            "shape": {"field": "alloy", "scale": {"domain": ["Ge₂Sb₂Te₅", "(Ge₂Sb₂Te₅)₀.₉₅Ag₀.₀₅", "(Ge₂Sb₂Te₅)₀.₉₀Ag₀.₁"], "range": [
              "M-1,-0.17H-0.1V0.17H-1Z M0.4,-0.17H1.3V0.17H0.4Z M4.1,-0.17H5V0.17H4.1Z M5.5,-0.17H6.4V0.17H5.5Z M3.7,0A1,1 0 1,1 1.7,0A1,1 0 1,1 3.7,0Z",
              "M-1,-0.17H-0.1V0.17H-1Z M0.4,-0.17H1.3V0.17H0.4Z M4.1,-0.17H5V0.17H4.1Z M5.5,-0.17H6.4V0.17H5.5Z M1.55,-0.8L3.85,-0.8L2.7,1.2Z",
              "M-1,-0.17H-0.1V0.17H-1Z M0.4,-0.17H1.3V0.17H0.4Z M4.1,-0.17H5V0.17H4.1Z M5.5,-0.17H6.4V0.17H5.5Z M3.7,0A1,1 0 1,1 1.7,0A1,1 0 1,1 3.7,0Z M3.4,0A0.7,0.7 0 1,0 2,0A0.7,0.7 0 1,0 3.4,0Z"
            ]}, "legend": {"title": null, "orient": "top-left", "offset": 9, "strokeColor": "black", "fillColor": "white", "padding": 6, "rowPadding": 6, "symbolSize": 36, "symbolStrokeWidth": 0, "symbolOpacity": 1, "labelOffset": 18}}
          }
        }
      ],
      "resolve": {"axis": {"x": "independent", "y": "independent"}, "scale": {"shape": "independent", "fill": "independent"}}
    }
  ]
}
